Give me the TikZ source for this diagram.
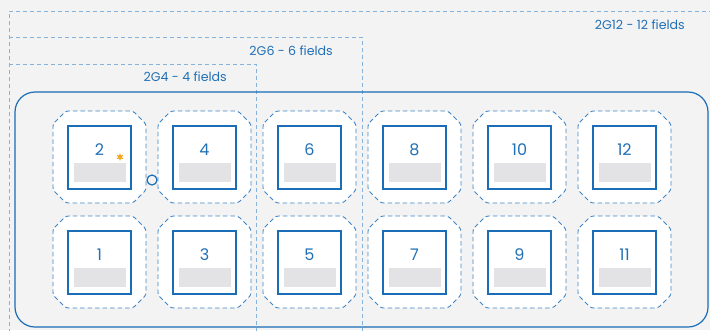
\documentclass[tikz,border=0pt]{standalone}
\usepackage{fontspec}
\setmainfont{Poppins}
\usetikzlibrary{shapes.geometric}
\definecolor{bg}{HTML}{F3F3F3}
\definecolor{mainblue}{HTML}{1A6DB6}
\definecolor{txtblue}{HTML}{2170B5}
\definecolor{dashblue}{HTML}{3F86C6}
\definecolor{lightdash}{HTML}{86B3DC}
\definecolor{bargray}{HTML}{E3E3E5}
\definecolor{starorange}{HTML}{F5A623}
\tikzset{
  grouplabel/.style={font=\fontsize{12.6}{14}\selectfont, text=txtblue, inner sep=0pt},
  groupline/.style={draw=lightdash, line width=0.8pt, dash pattern=on 4pt off 3pt},
  zone/.style={draw=dashblue, fill=white, line width=0.9pt, dash pattern=on 4.5pt off 3pt, rounded corners=2.5pt},
  zonebox/.style={minimum width=93pt, minimum height=92pt, inner sep=0pt},
  field/.style={draw=mainblue, line width=2pt, fill=white, minimum size=63pt, inner sep=0pt},
  num/.style={font=\fontsize{16}{19}\selectfont, text=txtblue, inner sep=0pt},
  bar/.style={fill=bargray, minimum width=52pt, minimum height=19pt, inner sep=0pt},
}
\newcommand{\zoneshape}[2]{%
  \draw[zone, shift={(#1,#2)}] (-46.5,-33) -- (-33.5,-46) -- (33.5,-46) -- (46.5,-33) -- (46.5,33) -- (33.5,46) -- (-33.5,46) -- (-46.5,33) -- cycle;}
\begin{document}
\begin{tikzpicture}[x=1pt,y=-1pt]
\useasboundingbox (0,0) rectangle (710,330);
\fill[bg] (0,0) rectangle (710,330);
\begin{scope}
\clip (0,0) rectangle (710,330);
% group outlines
\draw[groupline] (9,340) -- (9,11) -- (720,11);
\draw[groupline] (9,37) -- (362,37) -- (362,340);
\draw[groupline] (9,64) -- (256,64) -- (256,340);
\end{scope}
\node[grouplabel, anchor=east] (l12) at (685,25) {2G12 - 12 fields};
\node[grouplabel, anchor=east] (l6) at (333,51) {2G6 - 6 fields};
\node[grouplabel, anchor=east] (l4) at (227,77) {2G4 - 4 fields};
% main enclosure
\draw[mainblue, line width=1.2pt, rounded corners=20pt] (15,92) rectangle (708,327);
% tiles
\foreach \c in {0,...,5}{
  \pgfmathsetmacro{\xx}{99.5+105*\c}
  \pgfmathtruncatemacro{\top}{2*\c+2}
  \pgfmathtruncatemacro{\bot}{2*\c+1}
  \zoneshape{\xx}{157}
  \node[zonebox] (z\top) at (\xx,157) {};
  \node[field] (f\top) at (\xx,157) {};
  \node[num] (n\top) at (\xx,150) {\top};
  \node[bar] (b\top) at (\xx,172.5) {};
  \zoneshape{\xx}{262}
  \node[zonebox] (z\bot) at (\xx,262) {};
  \node[field] (f\bot) at (\xx,262) {};
  \node[num] (n\bot) at (\xx,255) {\bot};
  \node[bar] (b\bot) at (\xx,277.5) {};
}
\node[star, star points=6, star point ratio=2.2, fill=starorange, minimum size=8pt, inner sep=0pt] (st) at (120,157) {};
\node[circle, draw=mainblue, line width=1.2pt, fill=bg, minimum size=10pt, inner sep=0pt] (ring) at (152,180) {};
\end{tikzpicture}
\end{document}
